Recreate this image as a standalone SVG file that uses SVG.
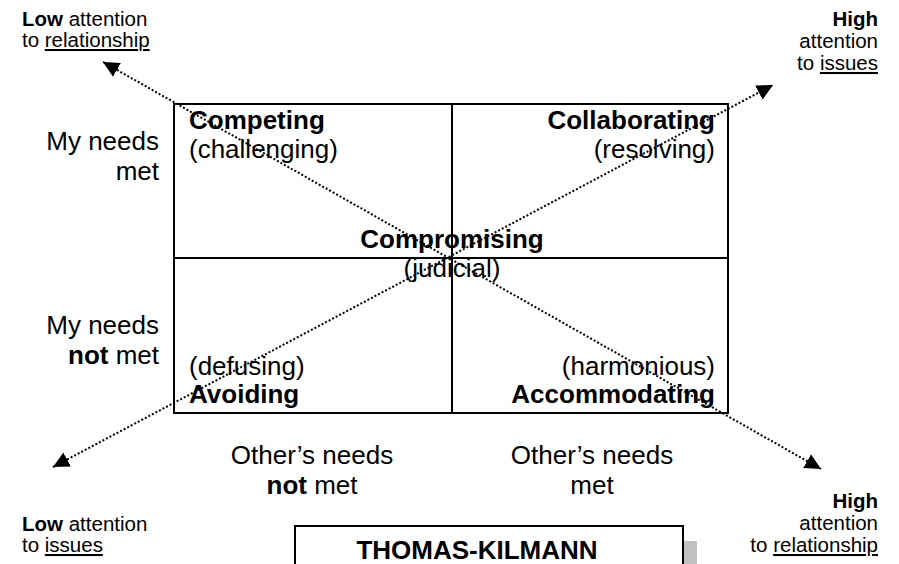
<svg xmlns="http://www.w3.org/2000/svg" width="899" height="564" viewBox="0 0 899 564">
<defs>
<style>
text{font-family:"Liberation Sans",Arial,sans-serif;fill:#000}
.m{font-size:26px}
.c{font-size:20.5px}
.b{font-weight:bold}
.r{text-anchor:end}
.mid{text-anchor:middle}
.u{text-decoration:underline}
.grid{fill:none;stroke:#000;stroke-width:2}
.dot{fill:none;stroke:#000;stroke-width:2;stroke-dasharray:2 2}
</style>
<marker id="ah" markerUnits="userSpaceOnUse" markerWidth="17" markerHeight="16" refX="16" refY="8" orient="auto-start-reverse">
<path d="M0,0 L16,8 L0,16 z" fill="#000"/>
</marker>
</defs>
<rect width="899" height="564" fill="#fff"/>
<g id="grid">
<rect class="grid" x="174" y="104" width="554" height="309"/>
<line class="grid" x1="452" y1="104" x2="452" y2="413"/>
<line class="grid" x1="174" y1="258" x2="728" y2="258"/>
</g>
<g id="competing"><text class="m b" x="189" y="129">Competing</text><text class="m" x="189" y="158">(challenging)</text></g>
<g id="collaborating"><text class="m b r" x="715" y="129">Collaborating</text><text class="m r" x="715" y="158">(resolving)</text></g>
<g id="compromising"><text class="m b mid" x="452" y="248">Compromising</text><text class="m mid" x="452" y="277">(judicial)</text></g>
<g id="avoiding"><text class="m" x="189" y="375">(defusing)</text><text class="m b" x="189" y="403">Avoiding</text></g>
<g id="accommodating"><text class="m r" x="715" y="375">(harmonious)</text><text class="m b r" x="715" y="403">Accommodating</text></g>
<g id="my-needs-met"><text class="m r" x="159" y="150">My needs</text><text class="m r" x="159" y="180">met</text></g>
<g id="my-needs-not-met"><text class="m r" x="159" y="334">My needs</text><text class="m r" x="159" y="364"><tspan class="b">not</tspan> met</text></g>
<g id="others-not-met"><text class="m mid" x="312" y="464">Other’s needs</text><text class="m mid" x="312" y="494"><tspan class="b">not</tspan> met</text></g>
<g id="others-met"><text class="m mid" x="592" y="464">Other’s needs</text><text class="m mid" x="592" y="494">met</text></g>
<g id="low-relationship"><text class="c" x="22" y="26"><tspan class="b">Low</tspan> attention</text><text class="c" x="22" y="47">to <tspan class="u">relationship</tspan></text></g>
<g id="high-issues"><text class="c b r" x="878" y="26">High</text><text class="c r" x="878" y="48">attention</text><text class="c r" x="878" y="70">to <tspan class="u">issues</tspan></text></g>
<g id="low-issues"><text class="c" x="22" y="531"><tspan class="b">Low</tspan> attention</text><text class="c" x="22" y="552">to <tspan class="u">issues</tspan></text></g>
<g id="high-relationship"><text class="c b r" x="878" y="508">High</text><text class="c r" x="878" y="530">attention</text><text class="c r" x="878" y="552">to <tspan class="u">relationship</tspan></text></g>
<g id="title">
<rect x="683" y="541" width="14" height="30" fill="#c0c0c0"/>
<rect x="295" y="526" width="388" height="50" fill="#fff" stroke="#000" stroke-width="2"/>
<text class="m b mid" x="477" y="559">THOMAS-KILMANN</text>
</g>
<g id="connectors">
<line class="dot" x1="103" y1="62" x2="821" y2="469" marker-start="url(#ah)" marker-end="url(#ah)"/>
<line class="dot" x1="53" y1="467" x2="773" y2="85" marker-start="url(#ah)" marker-end="url(#ah)"/>
</g>
</svg>
